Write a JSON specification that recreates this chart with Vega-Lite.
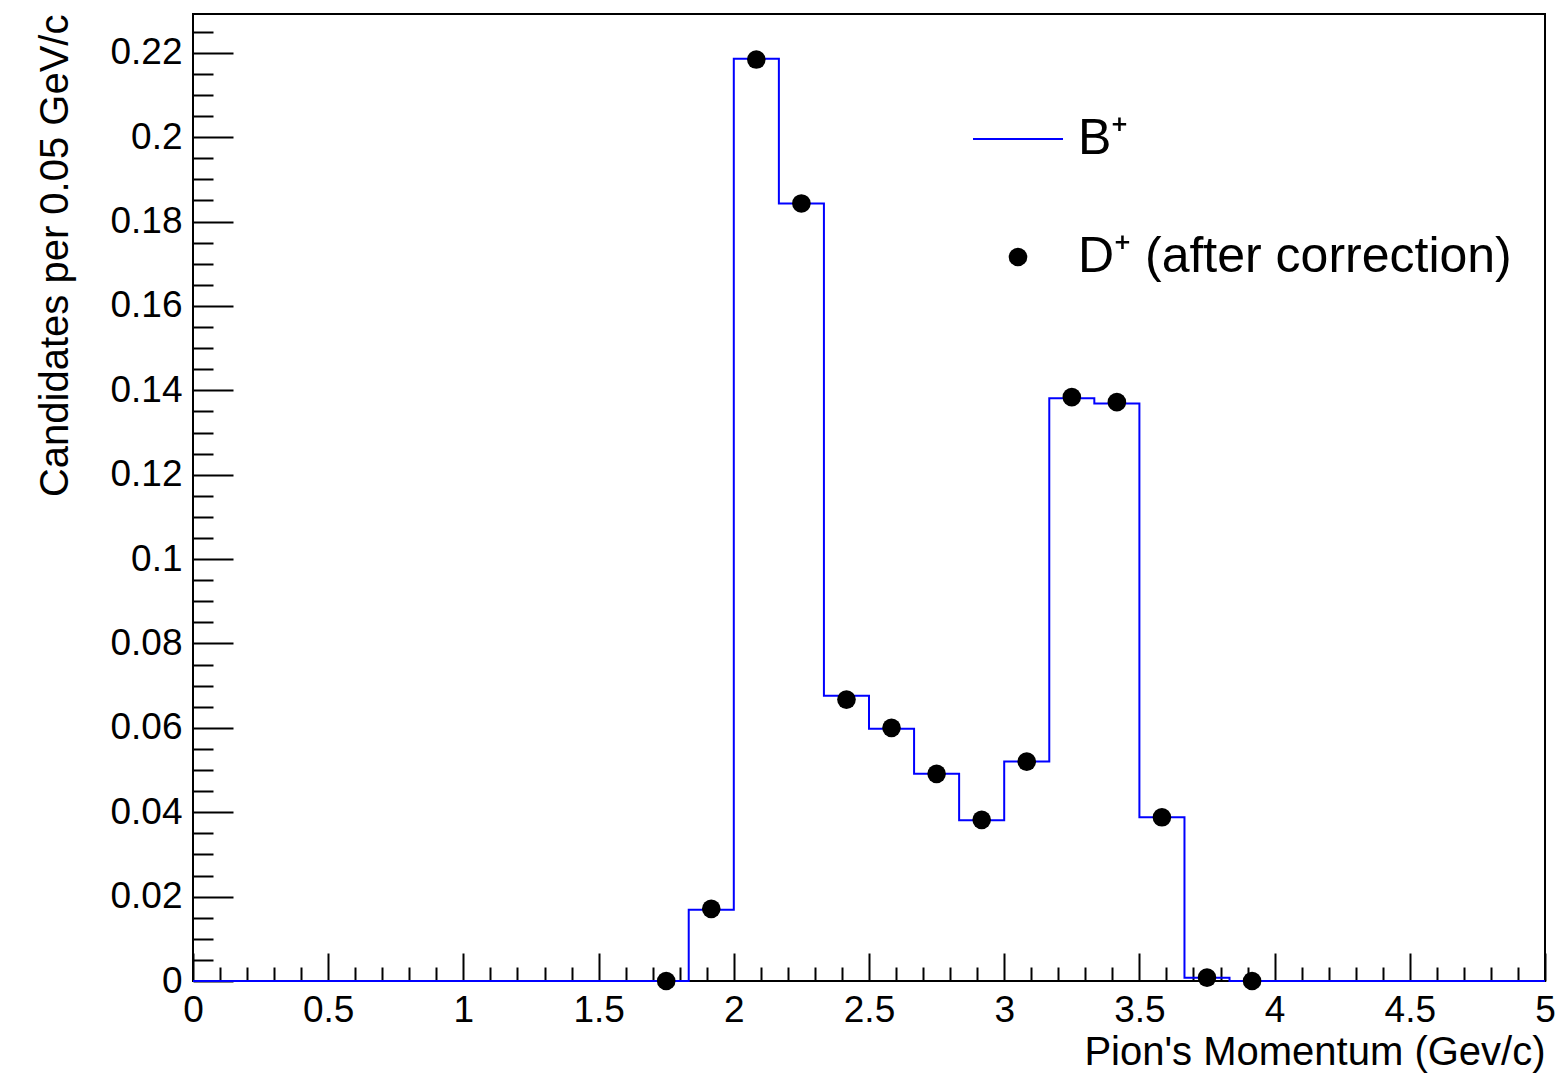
{
  "$schema": "https://vega.github.io/schema/vega-lite/v6.json",
  "width": 1352,
  "height": 967,
  "autosize": "none",
  "padding": {"left": 193, "top": 14, "right": 11, "bottom": 94},
  "background": "white",
  "config": {
    "view": {"stroke": "black", "strokeWidth": 2},
    "font": "Liberation Sans",
    "axis": {"grid": false, "domain": false, "tickColor": "black", "tickWidth": 2, "labelColor": "black", "titleColor": "black", "labelFont": "Liberation Sans", "titleFont": "Liberation Sans", "titleFontWeight": "normal", "labelOverlap": false, "labelBound": false, "labelFlush": false}
  },
  "datasets": {
    "hist": [
      {"p": 0.0, "n": 0, "series": "B⁺"},
      {"p": 0.1667, "n": 0, "series": "B⁺"},
      {"p": 0.3333, "n": 0, "series": "B⁺"},
      {"p": 0.5, "n": 0, "series": "B⁺"},
      {"p": 0.6667, "n": 0, "series": "B⁺"},
      {"p": 0.8333, "n": 0, "series": "B⁺"},
      {"p": 1.0, "n": 0, "series": "B⁺"},
      {"p": 1.1667, "n": 0, "series": "B⁺"},
      {"p": 1.3333, "n": 0, "series": "B⁺"},
      {"p": 1.5, "n": 0, "series": "B⁺"},
      {"p": 1.6667, "n": 0, "series": "B⁺"},
      {"p": 1.8333, "n": 0.0169, "series": "B⁺"},
      {"p": 2.0, "n": 0.2186, "series": "B⁺"},
      {"p": 2.1667, "n": 0.1843, "series": "B⁺"},
      {"p": 2.3333, "n": 0.0676, "series": "B⁺"},
      {"p": 2.5, "n": 0.0598, "series": "B⁺"},
      {"p": 2.6667, "n": 0.0491, "series": "B⁺"},
      {"p": 2.8333, "n": 0.0381, "series": "B⁺"},
      {"p": 3.0, "n": 0.0520, "series": "B⁺"},
      {"p": 3.1667, "n": 0.1381, "series": "B⁺"},
      {"p": 3.3333, "n": 0.1369, "series": "B⁺"},
      {"p": 3.5, "n": 0.0388, "series": "B⁺"},
      {"p": 3.6667, "n": 0.0008, "series": "B⁺"},
      {"p": 3.8333, "n": 0, "series": "B⁺"},
      {"p": 4.0, "n": 0, "series": "B⁺"},
      {"p": 4.1667, "n": 0, "series": "B⁺"},
      {"p": 4.3333, "n": 0, "series": "B⁺"},
      {"p": 4.5, "n": 0, "series": "B⁺"},
      {"p": 4.6667, "n": 0, "series": "B⁺"},
      {"p": 4.8333, "n": 0, "series": "B⁺"},
      {"p": 5.0, "n": 0, "series": "B⁺"}
    ],
    "pts": [
      {"p": 1.75, "n": 0.0, "series": "D⁺ (after correction)"},
      {"p": 1.9167, "n": 0.0171, "series": "D⁺ (after correction)"},
      {"p": 2.0833, "n": 0.2184, "series": "D⁺ (after correction)"},
      {"p": 2.25, "n": 0.1843, "series": "D⁺ (after correction)"},
      {"p": 2.4167, "n": 0.0667, "series": "D⁺ (after correction)"},
      {"p": 2.5833, "n": 0.0600, "series": "D⁺ (after correction)"},
      {"p": 2.75, "n": 0.0491, "series": "D⁺ (after correction)"},
      {"p": 2.9167, "n": 0.0382, "series": "D⁺ (after correction)"},
      {"p": 3.0833, "n": 0.0520, "series": "D⁺ (after correction)"},
      {"p": 3.25, "n": 0.1384, "series": "D⁺ (after correction)"},
      {"p": 3.4167, "n": 0.1372, "series": "D⁺ (after correction)"},
      {"p": 3.5833, "n": 0.0388, "series": "D⁺ (after correction)"},
      {"p": 3.75, "n": 0.0008, "series": "D⁺ (after correction)"},
      {"p": 3.9167, "n": 0.0, "series": "D⁺ (after correction)"}
    ]
  },
  "layer": [
    {
      "data": {"name": "hist"},
      "mark": {"type": "line", "interpolate": "step-after", "strokeWidth": 2, "color": "#0000ff"},
      "encoding": {
        "x": {
          "field": "p", "type": "quantitative",
          "scale": {"domain": [0, 5], "nice": false, "zero": false},
          "axis": {"orient": "bottom", "values": [0, 0.5, 1, 1.5, 2, 2.5, 3, 3.5, 4, 4.5, 5], "format": "~f", "tickSize": -28, "labelFontSize": 37, "labelPadding": 39, "title": "Pion's Momentum (Gev/c)", "titleFontSize": 40, "titleAnchor": "end", "titleAlign": "right", "titleBaseline": "alphabetic", "titleX": 1352, "titleY": 83}
        },
        "y": {
          "field": "n", "type": "quantitative",
          "scale": {"domain": [0, 0.2292], "nice": false, "zero": false},
          "axis": {"orient": "left", "values": [0, 0.02, 0.04, 0.06, 0.08, 0.1, 0.12, 0.14, 0.16, 0.18, 0.2, 0.22], "format": "~f", "tickSize": -40, "labelFontSize": 37, "labelPadding": 51, "title": "Candidates per 0.05 GeV/c", "titleFontSize": 40, "titleAnchor": "end", "titleAlign": "right", "titleBaseline": "alphabetic", "titleAngle": -90, "titleX": -126, "titleY": 0}
        },
        "color": {
          "field": "series", "type": "nominal",
          "scale": {"domain": ["B⁺", "D⁺ (after correction)"], "range": ["#0000ff", "black"]},
          "legend": {
            "orient": "none", "legendX": 800, "legendY": 100, "title": null, "symbolSize": 8100,
            "labelFontSize": 50, "labelFont": "Liberation Sans", "labelColor": "black", "labelOffset": 35, "rowPadding": 68, "padding": 0, "labelLimit": 0,
            "encode": {
              "symbols": {
                "update": {
                  "shape": {"signal": "datum.value === 'B⁺' ? 'stroke' : 'circle'"},
                  "size": {"signal": "datum.value === 'B⁺' ? 8100 : 346"},
                  "fill": {"signal": "datum.value === 'B⁺' ? 'transparent' : 'black'"},
                  "stroke": {"signal": "datum.value === 'B⁺' ? '#0000ff' : 'black'"},
                  "strokeWidth": {"signal": "datum.value === 'B⁺' ? 2 : 0"},
                  "opacity": {"value": 1}
                }
              }
            }
          }
        }
      }
    },
    {
      "data": {"name": "pts"},
      "mark": {"type": "point", "filled": true, "size": 346, "opacity": 1, "shape": "circle"},
      "encoding": {
        "x": {
          "field": "p", "type": "quantitative",
          "scale": {"domain": [0, 5], "nice": false, "zero": false},
          "axis": {"orient": "bottom", "values": [0.1, 0.2, 0.3, 0.4, 0.6, 0.7, 0.8, 0.9, 1.1, 1.2, 1.3, 1.4, 1.6, 1.7, 1.8, 1.9, 2.1, 2.2, 2.3, 2.4, 2.6, 2.7, 2.8, 2.9, 3.1, 3.2, 3.3, 3.4, 3.6, 3.7, 3.8, 3.9, 4.1, 4.2, 4.3, 4.4, 4.6, 4.7, 4.8, 4.9], "tickSize": -14, "labels": false, "title": null}
        },
        "y": {
          "field": "n", "type": "quantitative",
          "scale": {"domain": [0, 0.2292], "nice": false, "zero": false},
          "axis": {"orient": "left", "values": [0.005, 0.01, 0.015, 0.025, 0.03, 0.035, 0.045, 0.05, 0.055, 0.065, 0.07, 0.075, 0.085, 0.09, 0.095, 0.105, 0.11, 0.115, 0.125, 0.13, 0.135, 0.145, 0.15, 0.155, 0.165, 0.17, 0.175, 0.185, 0.19, 0.195, 0.205, 0.21, 0.215, 0.225], "tickSize": -20, "labels": false, "title": null}
        },
        "color": {"field": "series", "type": "nominal"}
      }
    }
  ],
  "resolve": {"axis": {"x": "independent", "y": "independent"}}
}
